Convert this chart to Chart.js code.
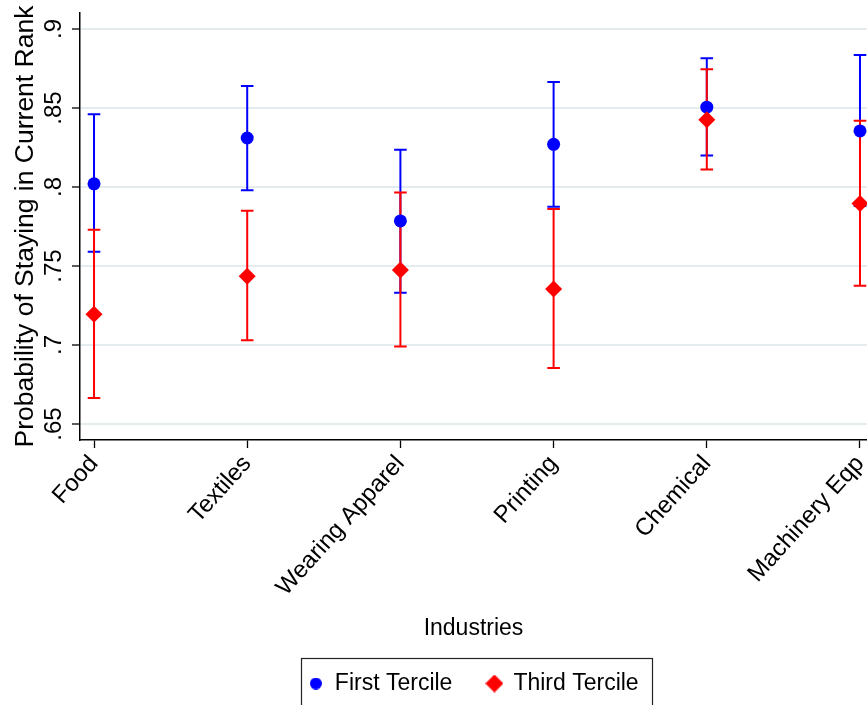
<!DOCTYPE html>
<html>
<head>
<meta charset="utf-8">
<script src="https://cdn.jsdelivr.net/npm/chart.js@4/dist/chart.umd.min.js"></script>
<style>
  html, body { margin: 0; padding: 0; background: #ffffff; }
  #wrap { width: 867px; height: 705px; position: relative; }
</style>
</head>
<body>
<div id="wrap"><canvas id="c" width="867" height="705"></canvas></div>
<script>
// ---- data ----
const categories = ["Food", "Textiles", "Wearing Apparel", "Printing", "Chemical", "Machinery Eqp"];
const seriesNames = ["First Tercile", "Third Tercile"];
const firstMean = [0.802, 0.831, 0.7785, 0.827, 0.8505, 0.8355];
const firstHigh = [0.846, 0.864, 0.8235, 0.8665, 0.8815, 0.8835];
const firstLow  = [0.759, 0.798, 0.733, 0.7875, 0.820, 0.788];
const thirdMean = [0.7195, 0.7435, 0.7475, 0.7355, 0.8425, 0.7895];
const thirdHigh = [0.773, 0.785, 0.7965, 0.786, 0.8745, 0.842];
const thirdLow  = [0.6665, 0.703, 0.699, 0.6855, 0.811, 0.7375];
const yTicks = [0.65, 0.7, 0.75, 0.8, 0.85, 0.9];
const xTicks = [1, 2, 3, 4, 5, 6];

const FONT = "'Liberation Sans', Arial, Helvetica, sans-serif";
const BLUE = '#0000ff';
const RED = '#ff0000';

function pts(arr) { return arr.map((v, i) => ({ x: xTicks[i], y: v })); }

function legendImage(kind, color) {
  const s = kind === 'circle' ? 12 : 18;
  const cv = document.createElement('canvas');
  cv.width = s; cv.height = s;
  const g = cv.getContext('2d');
  g.fillStyle = color;
  g.beginPath();
  if (kind === 'circle') {
    g.arc(s / 2, s / 2, s / 2, 0, Math.PI * 2);
  } else {
    g.moveTo(s / 2, 0); g.lineTo(s, s / 2); g.lineTo(s / 2, s); g.lineTo(0, s / 2); g.closePath();
  }
  g.fill();
  return cv;
}
const legendImgs = [legendImage('circle', BLUE), legendImage('diamond', RED)];

function noPadding(scale) {
  scale.paddingLeft = 0; scale.paddingRight = 0; scale.paddingTop = 0; scale.paddingBottom = 0;
  scale.getPadding = () => ({ left: 0, top: 0, right: 0, bottom: 0 });
}

const errorBars = {
  id: 'errorBars',
  beforeDatasetsDraw(chart) {
    const { ctx, scales: { x, y } } = chart;
    const sets = [
      { lo: firstLow, hi: firstHigh, color: BLUE },
      { lo: thirdLow, hi: thirdHigh, color: RED }
    ];
    ctx.save();
    const cap = 6.3;
    sets.forEach(s => {
      ctx.strokeStyle = s.color;
      ctx.lineWidth = 2;
      xTicks.forEach((xv, i) => {
        const px = x.getPixelForValue(xv);
        const pLo = y.getPixelForValue(s.lo[i]);
        const pHi = y.getPixelForValue(s.hi[i]);
        ctx.beginPath();
        ctx.moveTo(px, pLo); ctx.lineTo(px, pHi);
        ctx.moveTo(px - cap, pLo); ctx.lineTo(px + cap, pLo);
        ctx.moveTo(px - cap, pHi); ctx.lineTo(px + cap, pHi);
        ctx.stroke();
      });
    });
    ctx.restore();
  }
};

const legendBox = {
  id: 'legendBox',
  afterDraw(chart) {
    const lg = chart.legend;
    if (!lg || !lg.legendHitBoxes || !lg.legendHitBoxes.length) return;
    const hb = lg.legendHitBoxes;
    const first = hb[0], last = hb[hb.length - 1];
    const cy = first.top + first.height / 2;
    const left = first.left - 7;
    const right = last.left + last.width + 14;
    const top = cy - 25.5;
    const ctx = chart.ctx;
    ctx.save();
    ctx.strokeStyle = '#222222';
    ctx.lineWidth = 1.2;
    ctx.strokeRect(Math.round(left) + 0.5, Math.round(top) + 0.5, Math.round(right - left), 80);
    ctx.restore();
  }
};

new Chart(document.getElementById('c'), {
  type: 'scatter',
  data: {
    datasets: [
      {
        label: seriesNames[0],
        data: pts(firstMean),
        pointStyle: 'circle',
        pointRadius: 6.5,
        pointHoverRadius: 6.5,
        backgroundColor: BLUE,
        borderColor: BLUE,
        borderWidth: 0,
        clip: false,
        order: 1
      },
      {
        label: seriesNames[1],
        data: pts(thirdMean),
        pointStyle: 'rectRot',
        pointRadius: 8.5,
        pointHoverRadius: 8.5,
        backgroundColor: RED,
        borderColor: RED,
        borderWidth: 0,
        clip: false,
        order: 0
      }
    ]
  },
  options: {
    responsive: false,
    animation: false,
    events: [],
    layout: { autoPadding: false, padding: { top: 13, right: 0, left: 0, bottom: 0 } },
    scales: {
      x: {
        type: 'linear',
        min: 1 - 14 / 153,
        max: 6 + 7 / 153,
        afterBuildTicks(scale) { scale.ticks = xTicks.map(v => ({ value: v })); },
        afterFit(scale) { scale.height = 705 - 67.5 - 440; noPadding(scale); },
        ticks: {
          autoSkip: false,
          minRotation: 48,
          maxRotation: 48,
          padding: 2,
          color: '#000000',
          font: { family: FONT, size: 24 },
          callback: (v) => categories[xTicks.indexOf(v)] || ''
        },
        grid: { drawOnChartArea: false, drawTicks: true, tickLength: 8, tickColor: '#000000', tickWidth: 1.3 },
        border: { display: true, color: '#000000', width: 1.5 },
        title: {
          display: true,
          text: 'Industries',
          color: '#000000',
          font: { family: FONT, size: 23 },
          padding: { top: 0, bottom: -5 }
        }
      },
      y: {
        type: 'linear',
        min: 0.9 - 411 / 1580,
        max: 0.9 + 16 / 1580,
        afterBuildTicks(scale) { scale.ticks = yTicks.map(v => ({ value: v })); },
        afterFit(scale) { scale.width = 80; noPadding(scale); },
        ticks: {
          minRotation: 90,
          maxRotation: 90,
          crossAlign: 'center',
          padding: 1,
          color: '#000000',
          font: { family: FONT, size: 24 },
          callback: (v) => String(Math.round(v * 100) / 100).replace(/^0/, '')
        },
        grid: { color: '#e4ecef', lineWidth: 2, drawTicks: true, tickLength: 8, tickColor: '#000000', tickWidth: 1.3 },
        border: { display: true, color: '#000000', width: 1.5 },
        title: {
          display: true,
          text: 'Probability of Staying in Current Rank',
          color: '#000000',
          font: { family: FONT, size: 26.5 },
          padding: { top: 10, bottom: 0 }
        }
      }
    },
    plugins: {
      legend: {
        display: true,
        position: 'bottom',
        fullSize: false,
        labels: {
          usePointStyle: true,
          pointStyleWidth: 15,
          boxHeight: 12,
          padding: 34.5,
          color: '#000000',
          font: { family: FONT, size: 23 },
          generateLabels(chart) {
            return chart.data.datasets.map((ds, i) => ({
              text: ds.label,
              fillStyle: ds.backgroundColor,
              strokeStyle: ds.backgroundColor,
              lineWidth: 0,
              pointStyle: legendImgs[i],
              hidden: false,
              datasetIndex: i,
              fontColor: '#000000'
            }));
          }
        }
      },
      tooltip: { enabled: false }
    }
  },
  plugins: [errorBars, legendBox]
});
</script>
</body>
</html>
